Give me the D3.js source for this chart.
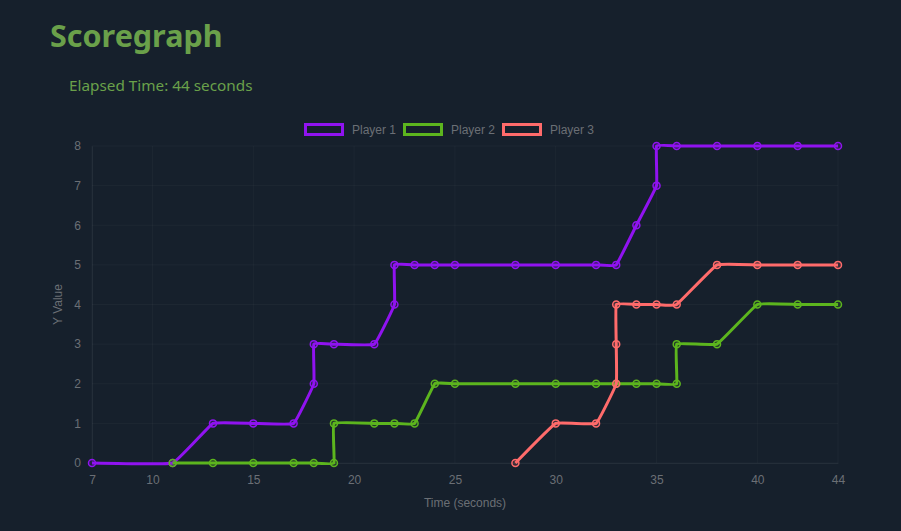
<!DOCTYPE html>
<html lang="en">
<head>
    <meta charset="UTF-8">
    <title>Scoregraph</title>
    <script src="https://d3js.org/d3.v7.min.js"></script>
    <style>
        html, body { margin: 0; padding: 0; background: #16202c; }
        body { width: 901px; height: 531px; overflow: hidden; }
    </style>
</head>
<body>
    <svg id="chart" width="901" height="531"></svg>
    <script>
        // player data: time in seconds, score
        var playerNames = ["Player 1", "Player 2", "Player 3"];
        var playerColors = ["#9013f0", "#5cb51e", "#ff6b6b"];

        var p1Times = [7, 11, 13, 15, 17, 18, 18, 19, 21, 22, 22, 23, 24, 25, 28, 30, 32, 33, 34, 35, 35, 36, 38, 40, 42, 44];
        var p1Scores = [0, 0, 1, 1, 1, 2, 3, 3, 3, 4, 5, 5, 5, 5, 5, 5, 5, 5, 6, 7, 8, 8, 8, 8, 8, 8];

        var p2Times = [11, 13, 15, 17, 18, 19, 19, 21, 22, 23, 24, 25, 28, 30, 32, 33, 34, 35, 36, 36, 38, 40, 42, 44];
        var p2Scores = [0, 0, 0, 0, 0, 0, 1, 1, 1, 1, 2, 2, 2, 2, 2, 2, 2, 2, 2, 3, 3, 4, 4, 4];

        var p3Times = [28, 30, 32, 33, 33, 33, 34, 35, 36, 38, 40, 42, 44];
        var p3Scores = [0, 1, 1, 2, 3, 4, 4, 4, 4, 5, 5, 5, 5];

        var xTicks = [7, 10, 15, 20, 25, 30, 35, 40, 44];
        var yTicks = [0, 1, 2, 3, 4, 5, 6, 7, 8];

        var series = [
            { name: playerNames[0], color: playerColors[0], times: p1Times, scores: p1Scores },
            { name: playerNames[1], color: playerColors[1], times: p2Times, scores: p2Scores },
            { name: playerNames[2], color: playerColors[2], times: p3Times, scores: p3Scores }
        ];

        var svg = d3.select("#chart");
        var tickColor = "#6b6f75";
        var gridColor = "rgba(255,255,255,0.03)";
        var font = "'Liberation Sans', Arial, sans-serif";

        // page header
        svg.append("text")
            .attr("x", 50).attr("y", 47)
            .text("Scoregraph")
            .style("font-family", "'Noto Sans', 'Open Sans', sans-serif")
            .style("font-weight", "bold")
            .style("font-size", "30.5px")
            .style("fill", "#6aa04a");
        svg.append("text")
            .attr("x", 69).attr("y", 91)
            .text("Elapsed Time: 44 seconds")
            .style("font-family", "'Noto Sans', 'Open Sans', sans-serif")
            .style("font-size", "15.3px")
            .style("fill", "#6aa04a");

        // plot area edges
        var plotLeft = 92, plotRight = 838, plotTop = 146, plotBottom = 463;

        var x = d3.scaleLinear().domain([7, 44]).range([plotLeft, plotRight]);
        var y = d3.scaleLinear().domain([0, 8]).range([plotBottom, plotTop]);

        // grid
        var grid = svg.append("g");
        grid.selectAll(".gx").data(xTicks).enter().append("line")
            .attr("x1", d => x(d)).attr("x2", d => x(d))
            .attr("y1", plotTop).attr("y2", plotBottom)
            .style("stroke", gridColor);
        grid.selectAll(".gy").data(yTicks).enter().append("line")
            .attr("x1", plotLeft).attr("x2", plotRight)
            .attr("y1", d => y(d)).attr("y2", d => y(d))
            .style("stroke", gridColor);

        // axes
        var xAxis = svg.append("g")
            .attr("transform", "translate(0," + plotBottom + ")")
            .call(d3.axisBottom(x).tickValues(xTicks).tickSize(0).tickPadding(12));
        var yAxis = svg.append("g")
            .attr("transform", "translate(" + plotLeft + ",0)")
            .call(d3.axisLeft(y).tickValues(yTicks).tickSize(0).tickPadding(11));
        [xAxis, yAxis].forEach(function (a) {
            a.select(".domain").style("stroke", "rgba(255,255,255,0.05)");
            a.selectAll("text")
                .style("fill", tickColor)
                .style("font-family", font)
                .style("font-size", "12px");
        });

        svg.append("text")
            .attr("x", (plotLeft + plotRight) / 2).attr("y", 507)
            .attr("text-anchor", "middle")
            .text("Time (seconds)")
            .style("fill", tickColor)
            .style("font-family", font)
            .style("font-size", "12px");
        svg.append("text")
            .attr("transform", "translate(62," + (plotTop + plotBottom) / 2 + ") rotate(-90)")
            .attr("text-anchor", "middle")
            .text("Y Value")
            .style("fill", tickColor)
            .style("font-family", font)
            .style("font-size", "12px");

        // lines
        var line = d3.line()
            .x(d => x(d[0]))
            .y(d => y(d[1]))
            .curve(d3.curveCardinal.tension(0.75));

        series.forEach(function (s) {
            var pts = s.times.map((t, i) => [t, s.scores[i]]);
            svg.append("path")
                .datum(pts)
                .attr("d", line)
                .style("fill", "none")
                .style("stroke", s.color)
                .style("stroke-width", 3)
                .style("stroke-linejoin", "round");
            svg.append("g").selectAll("circle").data(pts).enter().append("circle")
                .attr("cx", d => x(d[0]))
                .attr("cy", d => y(d[1]))
                .attr("r", 3.5)
                .style("fill", s.color)
                .style("fill-opacity", 0.15)
                .style("stroke", s.color)
                .style("stroke-width", 1.5);
        });

        // legend
        var legend = svg.append("g");
        var legendX = [304, 403, 502];
        series.forEach(function (s, i) {
            legend.append("rect")
                .attr("x", legendX[i] + 1.5).attr("y", 124.5)
                .attr("width", 37).attr("height", 10)
                .style("fill", "#16202c")
                .style("stroke", s.color)
                .style("stroke-width", 3);
            legend.append("text")
                .attr("x", legendX[i] + 48).attr("y", 134)
                .text(s.name)
                .style("fill", tickColor)
                .style("font-family", font)
                .style("font-size", "12px");
        });
    </script>
</body>
</html>
